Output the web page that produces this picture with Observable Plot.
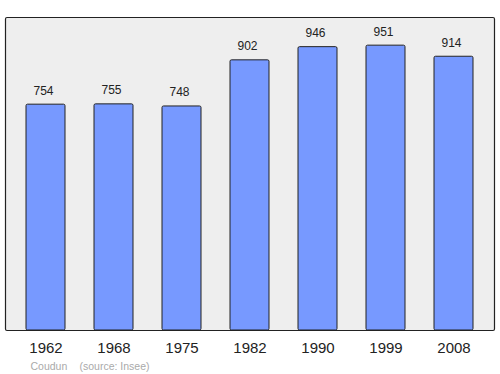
<!DOCTYPE html>
<html>
<head>
<meta charset="utf-8">
<script src="https://cdn.jsdelivr.net/npm/d3@7"></script>
<script src="https://cdn.jsdelivr.net/npm/@observablehq/plot@0.6"></script>
<style>
  html, body { margin: 0; padding: 0; background: #fff; }
  #chart svg { display: block; }
</style>
</head>
<body>
<div id="chart"></div>
<script>
const years = ["1962", "1968", "1975", "1982", "1990", "1999", "2008"];
const population = [754, 755, 748, 902, 946, 951, 914];
const captionPlace = "Coudun";
const captionSource = "(source: Insee)";

const data = years.map((year, i) => ({year, value: population[i]}));

const chart = Plot.plot({
  width: 500,
  height: 374,
  marginTop: 17,
  marginBottom: 44,
  marginLeft: 5,
  marginRight: 6,
  style: {fontFamily: "'Liberation Sans', Arial, sans-serif", background: "#fff"},
  x: {domain: years, paddingInner: 0.43, paddingOuter: 0.29, label: null},
  y: {domain: [0, 1045], axis: null},
  marks: [
    Plot.frame({fill: "#eeeeee", stroke: "#222", strokeWidth: 1.2, rx: 1.5}),
    Plot.barY(data, {x: "year", y: "value", fill: "#7799ff", stroke: "#222", strokeWidth: 1, rx: 1.5}),
    Plot.text(data, {x: "year", y: "value", text: d => String(d.value), lineAnchor: "bottom", dy: -10, dx: -2.5, fontSize: 12, fill: "#222"}),
    Plot.axisX({tickSize: 0, tickPadding: 12, fontSize: 15, color: "#222", label: null}),
    Plot.text([captionPlace], {frameAnchor: "bottom-left", dx: 25, dy: 39, textAnchor: "start", lineAnchor: "bottom", fontSize: 10.5, fill: "#aaa"}),
    Plot.text([captionSource], {frameAnchor: "bottom-left", dx: 74, dy: 39, textAnchor: "start", lineAnchor: "bottom", fontSize: 10.5, fill: "#aaa"})
  ]
});
document.getElementById("chart").appendChild(chart);
</script>
</body>
</html>
